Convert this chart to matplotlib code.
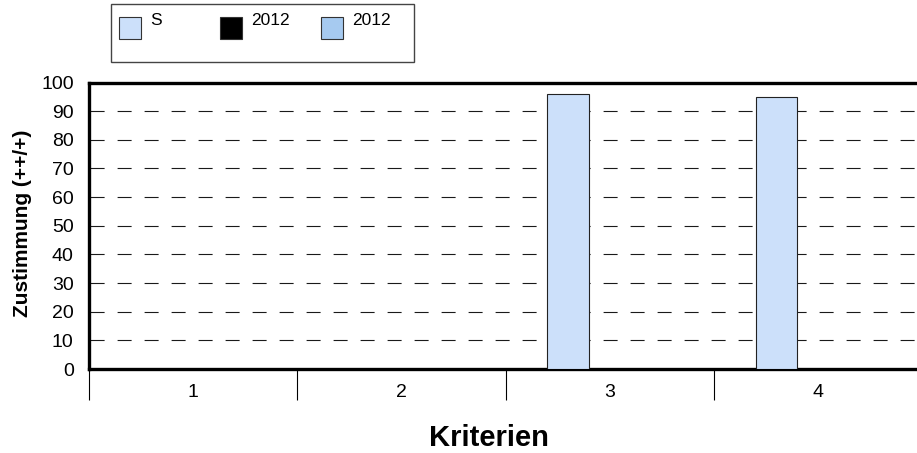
import numpy as np
import matplotlib.pyplot as plt
from matplotlib.patches import Rectangle

plt.rcParams['font.family'] = ['Liberation Sans', 'DejaVu Sans']

categories = ['1', '2', '3', '4']
series_names = ['S', '2012', '2012']
s_values = [np.nan, np.nan, 96, 95]
b2012_values = [np.nan, np.nan, np.nan, np.nan]
c2012_values = [np.nan, np.nan, np.nan, np.nan]
colors = ['#CCE0FA', '#000000', '#A6CAF0']
yticks = [0, 10, 20, 30, 40, 50, 60, 70, 80, 90, 100]

W, H = 917, 453
fig = plt.figure(figsize=(W / 100, H / 100), dpi=100)
ax = fig.add_axes([89 / W, 1 - 369 / H, (W - 89) / W, (369 - 82.5) / H])

x = np.arange(len(categories))
bw = 0.2
all_values = [s_values, b2012_values, c2012_values]
for i, (vals, col) in enumerate(zip(all_values, colors)):
    ax.bar(x + (i - 1) * bw, vals, width=bw, color=col, edgecolor='#222222',
           linewidth=0.8, zorder=3)

# dashed grid lines
for yv in yticks[1:-1]:
    ax.axhline(yv, color='#1a1a1a', linewidth=0.8, linestyle=(-1, (12.6, 11.7)), zorder=1)

ax.set_xlim(-0.5, -0.5 + (W - 89) / 208.3)
ax.set_ylim(0, 100)
ax.set_yticks(yticks)
ax.set_xticks(x)
ax.set_xticklabels(categories)
ax.set_xticks(np.arange(-0.5, len(categories) - 1), minor=True)
ax.tick_params(axis='y', length=0, pad=11, labelsize=14)
ax.tick_params(axis='x', which='major', length=0, pad=11, labelsize=14)
ax.tick_params(axis='x', which='minor', length=22, width=0.8, direction='out', color='black')

for s in ['top', 'left', 'bottom']:
    ax.spines[s].set_linewidth(2.4)
    ax.spines[s].set_color('black')
ax.spines['right'].set_visible(False)

fig.text(23 / W, 1 - 223 / H, 'Zustimmung (++/+)', rotation=90, ha='center', va='center',
         fontsize=15, fontweight='bold')
fig.text(489 / W, 1 - 446 / H, 'Kriterien', ha='center', va='baseline',
         fontsize=21, fontweight='bold')

# legend box drawn by hand
fig.patches.append(Rectangle((111 / W, 1 - 62 / H), (414 - 111) / W, 58 / H,
                             transform=fig.transFigure, facecolor='white',
                             edgecolor='#444444', linewidth=1))
for i, (name, col) in enumerate(zip(series_names, colors)):
    x0 = 119 + i * 101
    fig.patches.append(Rectangle((x0 / W, 1 - 39 / H), 22 / W, 22 / H,
                                 transform=fig.transFigure, facecolor=col,
                                 edgecolor='#333333', linewidth=0.8))
    fig.text((x0 + 31) / W, 1 - 13 / H, name, ha='left', va='top', fontsize=12.5)

fig.savefig('out.png', dpi=100)
